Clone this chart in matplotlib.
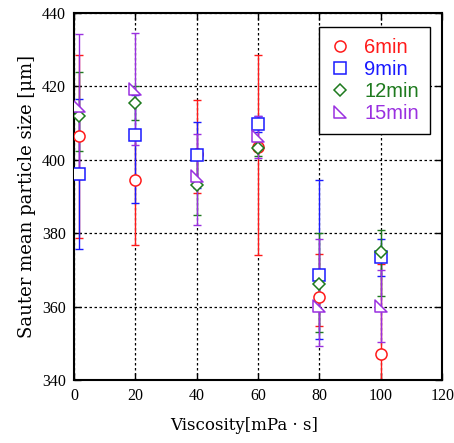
import matplotlib
matplotlib.use("Agg")
import matplotlib.pyplot as plt
from matplotlib.path import Path
import numpy as np

# viscosity [mPa s]
viscosity = [1.5, 20, 40, 60, 80, 100]

# sauter mean size [um], with lower / upper ends of the error bars
t6 = [406.5, 394.4, 401.7, 403.5, 362.7, 347.1]
t6_lo = [378.6, 376.7, 391.0, 374.0, 354.7, 323.0]
t6_hi = [428.4, 406.5, 416.3, 428.6, 374.2, 371.6]

t9 = [396.2, 406.7, 401.2, 409.8, 368.6, 373.4]
t9_lo = [375.8, 388.1, 392.2, 407.5, 351.1, 368.4]
t9_hi = [416.6, 417.7, 410.2, 412.0, 394.5, 378.4]

t12 = [411.9, 415.4, 393.1, 403.3, 366.3, 375.0]
t12_lo = [402.5, 410.8, 385.0, 401.0, 353.0, 363.0]
t12_hi = [424.0, 420.0, 401.2, 405.5, 380.0, 380.8]

t15 = [414.5, 419.3, 395.7, 406.5, 360.2, 360.2]
t15_lo = [394.8, 404.1, 382.2, 400.4, 349.3, 350.5]
t15_hi = [434.2, 434.5, 406.9, 412.0, 378.3, 370.1]

labels = ["6min", "9min", "12min", "15min"]
colors = ["#ff1a1a", "#1a1aff", "#1e7a1e", "#9a30e0"]

# right triangle with the right angle at lower left
tri = Path([(-0.5, 0.5), (-0.5, -0.5), (0.5, -0.5), (-0.5, 0.5)],
           [Path.MOVETO, Path.LINETO, Path.LINETO, Path.CLOSEPOLY])
markers = ["o", "s", "D", tri]
msizes = [8, 8, 6.3, 8.6]

fig = plt.figure(figsize=(4.54, 4.43), dpi=100)
ax = fig.add_axes([0.163, 0.142, 0.811, 0.829])

series = [(t6, t6_lo, t6_hi), (t9, t9_lo, t9_hi),
          (t12, t12_lo, t12_hi), (t15, t15_lo, t15_hi)]

for i, (y, lo, hi) in enumerate(series):
    y = np.array(y)
    yerr = [y - np.array(lo), np.array(hi) - y]
    ax.errorbar(viscosity, y, yerr=yerr, fmt="none", ecolor=colors[i],
                elinewidth=1.0, capsize=3, capthick=1.0, zorder=2 + i * 0.1)

for i, (y, lo, hi) in enumerate(series):
    ax.plot(viscosity, y, linestyle="none", marker=markers[i], ms=msizes[i],
            mec=colors[i], mfc="white", mew=1.1, label=labels[i], zorder=4 + i * 0.1)

ax.set_xlim(0, 120)
ax.set_ylim(340, 440)
ax.set_xticks(np.arange(0, 121, 20))
ax.set_yticks(np.arange(340, 441, 20))
ax.grid(True, color="black", linestyle=(0, (2, 2)), linewidth=0.9)
ax.set_axisbelow(True)
ax.tick_params(direction="in", top=True, right=True, length=5, width=1,
               labelsize=11.5, pad=6)
for lab in ax.get_xticklabels() + ax.get_yticklabels():
    lab.set_family("Liberation Serif")
for sp in ax.spines.values():
    sp.set_linewidth(1.5)

ax.set_xlabel("Viscosity[mPa \u00b7 s]", fontsize=12, family="DejaVu Serif")
ax.xaxis.set_label_coords(0.462, -0.1)
ax.set_ylabel("Sauter mean particle size [\u03bcm]", fontsize=13, family="DejaVu Serif", labelpad=4)

leg = ax.legend(loc="upper right", bbox_to_anchor=(0.967, 0.962), borderaxespad=0,
                frameon=True, fancybox=False,
                edgecolor="black", framealpha=1, labelcolor="markeredgecolor",
                prop={"family": "Liberation Sans", "size": 14.5}, handlelength=1.0,
                handletextpad=0.7, labelspacing=0.15, borderpad=0.55)
leg.get_frame().set_linewidth(1.0)

fig.savefig("out.png", dpi=100)
